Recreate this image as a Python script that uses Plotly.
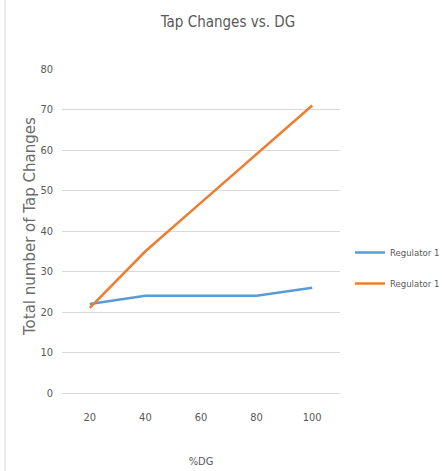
import plotly.graph_objects as go

categories = ["20", "40", "60", "80", "100"]
reg_blue = [22, 24, 24, 24, 26]
reg_orange = [21, 35, 47, 59, 71]
series_names = ["Regulator 1", "Regulator 1"]
y_title = "Total number of Tap Changes"

narrow = "DejaVu Sans Condensed, Liberation Sans Narrow, Arial Narrow, sans-serif"

fig = go.Figure()
fig.add_trace(go.Scatter(x=categories, y=reg_blue, mode="lines", name=series_names[0], legendgroup="a",
                         line=dict(color="#5B9BD5", width=2.5)))
fig.add_trace(go.Scatter(x=categories, y=reg_orange, mode="lines", name=series_names[1], legendgroup="b",
                         line=dict(color="#ED7D31", width=2.5)))

W, H = 442, 471
L, R, T, B = 62, 102, 69, 78
pw = W - L - R
ph = H - T - B

fig.update_layout(
    width=W, height=H,
    margin=dict(l=L, r=R, t=T, b=B, autoexpand=False),
    paper_bgcolor="white", plot_bgcolor="white",
    title=dict(text="Tap Changes vs. DG", x=228 / W, xref="container", xanchor="center", y=1 - 22 / H, yanchor="middle",
               font=dict(family=narrow, size=15, color="#595959")),
    showlegend=True,
    legend=dict(x=(350 - L) / pw, xanchor="left", y=(393 - 268) / ph, yanchor="middle",
                font=dict(family=narrow, size=9.5, color="#595959"),
                tracegroupgap=12, itemwidth=30, bgcolor="rgba(0,0,0,0)"),
    xaxis=dict(type="category", range=[-0.5, 4.5], showgrid=False, showline=True, linecolor="#d9d9d9", linewidth=1,
               ticks="", tickfont=dict(family=narrow, size=11, color="#595959"), ticklabelstandoff=14,
               automargin=False,
               title=dict(text="%DG", font=dict(family=narrow, size=11, color="#595959"), standoff=34)),
    yaxis=dict(range=[0, 80], dtick=10, showgrid=True, gridcolor="#d9d9d9", gridwidth=1,
               zeroline=True, zerolinecolor="#d9d9d9", showline=False, ticks="", automargin=False,
               tickfont=dict(family=narrow, size=11, color="#595959"), ticklabelstandoff=8),
)

fig.add_annotation(text=y_title, textangle=-90, xref="paper", yref="paper",
                   x=(30 - L) / pw, y=(393 - 227) / ph, xanchor="center", yanchor="middle",
                   showarrow=False, font=dict(family="DejaVu Sans, sans-serif", size=15, color="#6b6b6b"))

fig.add_shape(type="line", xref="paper", yref="paper",
              x0=(5 - L) / pw, x1=(5 - L) / pw, y0=-B / ph, y1=1 + T / ph,
              line=dict(color="#d9d9d9", width=1))

fig.write_html("out.html", config={"displayModeBar": False},
               post_script="document.body.style.margin='0';")
